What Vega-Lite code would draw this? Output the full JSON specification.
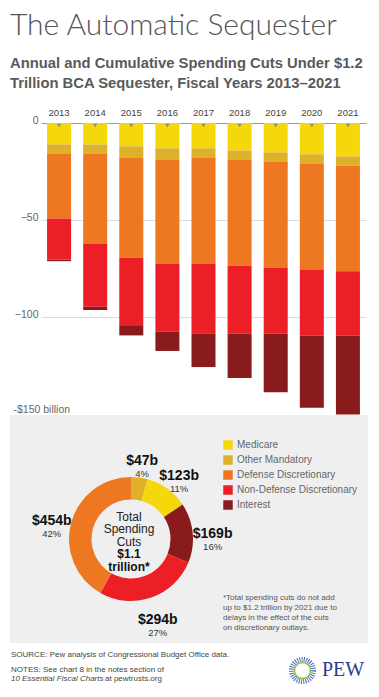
{
  "$schema": "https://vega.github.io/schema/vega-lite/v6.json",
  "padding": {"left": 10, "top": 11, "right": 0, "bottom": 0},
  "background": "white",
  "config": {
    "view": {"stroke": null},
    "font": "Liberation Sans",
    "axis": {"labelFont": "Liberation Sans"},
    "legend": {"labelFont": "Liberation Sans"}
  },
  "title": {
    "text": "The Automatic Sequester",
    "subtitle": ["Annual and Cumulative Spending Cuts Under $1.2", "Trillion BCA Sequester, Fiscal Years 2013–2021"],
    "anchor": "start",
    "frame": "bounds",
    "font": "Lato",
    "fontSize": 30,
    "fontWeight": 300,
    "color": "#555555",
    "subtitleFont": "Liberation Sans",
    "subtitleFontSize": 14.8,
    "subtitleFontWeight": "bold",
    "subtitleColor": "#5a5a5a",
    "subtitlePadding": 15,
    "subtitleLineHeight": 20,
    "offset": 16.5
  },
  "datasets": {
    "bars": [
      {"year": "2013", "Medicare": -11.0, "Other Mandatory": -5.0, "Defense Discretionary": -33.1, "Non-Defense Discretionary": -21.3, "Interest": -0.7},
      {"year": "2014", "Medicare": -11.0, "Other Mandatory": -5.0, "Defense Discretionary": -46.2, "Non-Defense Discretionary": -32.3, "Interest": -1.7},
      {"year": "2015", "Medicare": -12.0, "Other Mandatory": -6.0, "Defense Discretionary": -51.4, "Non-Defense Discretionary": -35.0, "Interest": -4.9},
      {"year": "2016", "Medicare": -13.0, "Other Mandatory": -6.1, "Defense Discretionary": -53.2, "Non-Defense Discretionary": -35.1, "Interest": -9.9},
      {"year": "2017", "Medicare": -13.0, "Other Mandatory": -5.0, "Defense Discretionary": -54.3, "Non-Defense Discretionary": -36.1, "Interest": -17.2},
      {"year": "2018", "Medicare": -14.1, "Other Mandatory": -5.0, "Defense Discretionary": -54.3, "Non-Defense Discretionary": -35.0, "Interest": -22.8},
      {"year": "2019", "Medicare": -15.1, "Other Mandatory": -5.0, "Defense Discretionary": -54.3, "Non-Defense Discretionary": -34.0, "Interest": -30.1},
      {"year": "2020", "Medicare": -16.1, "Other Mandatory": -4.8, "Defense Discretionary": -54.5, "Non-Defense Discretionary": -34.0, "Interest": -37.1},
      {"year": "2021", "Medicare": -17.2, "Other Mandatory": -4.8, "Defense Discretionary": -54.3, "Non-Defense Discretionary": -33.1, "Interest": -44.0}
    ],
    "cats": [
      {"cat": "Medicare", "bo": 1, "do": 2},
      {"cat": "Other Mandatory", "bo": 2, "do": 1},
      {"cat": "Defense Discretionary", "bo": 3, "do": 5},
      {"cat": "Non-Defense Discretionary", "bo": 4, "do": 4},
      {"cat": "Interest", "bo": 5, "do": 3}
    ],
    "totals": [
      {"cat": "Other Mandatory", "amt": 47, "lab": "$47b", "pct": "4%"},
      {"cat": "Medicare", "amt": 123, "lab": "$123b", "pct": "11%"},
      {"cat": "Interest", "amt": 169, "lab": "$169b", "pct": "16%"},
      {"cat": "Non-Defense Discretionary", "amt": 294, "lab": "$294b", "pct": "27%"},
      {"cat": "Defense Discretionary", "amt": 454, "lab": "$454b", "pct": "42%"}
    ]
  },
  "spacing": 0,
  "resolve": {"legend": {"color": "independent"}},
  "vconcat": [
    {
      "spacing": 0,
      "hconcat": [
        {
          "width": 3,
          "height": 1,
          "data": {"values": [{"t": ""}]},
          "mark": {"type": "text", "text": ""},
          "encoding": {}
        },
        {
          "width": 325,
          "height": 291.5,
          "data": {"name": "bars"},
          "transform": [
            {"fold": ["Medicare", "Other Mandatory", "Defense Discretionary", "Non-Defense Discretionary", "Interest"], "as": ["cat", "v"]},
            {"lookup": "cat", "from": {"data": {"name": "cats"}, "key": "cat", "fields": ["bo"]}}
          ],
          "layer": [
            {
              "mark": {"type": "bar"},
              "encoding": {
                "x": {
                  "field": "year", "type": "ordinal",
                  "scale": {"paddingInner": 0.335, "paddingOuter": 0.168},
                  "axis": {"orient": "top", "title": null, "ticks": false, "domain": true, "domainColor": "#9a9a9a", "domainWidth": 1, "labelPadding": 5.5, "labelFontSize": 9.5, "labelColor": "#444444", "labelAngle": 0, "grid": false}
                },
                "y": {
                  "field": "v", "type": "quantitative", "stack": "zero",
                  "scale": {"domain": [-150, 0], "nice": false, "clamp": true},
                  "axis": {
                    "values": [0, -50, -100, -150], "title": null, "ticks": false, "domain": false,
                    "labelFontSize": 10.5, "labelColor": "#666666",
                    "labelExpr": "datum.value === -150 ? '-$150 billion' : datum.label",
                    "labelAlign": {"condition": {"test": "datum.value === -150", "value": "left"}, "value": "right"},
                    "labelBaseline": {"condition": {"test": "datum.value === -150", "value": "bottom"}, "value": "middle"},
                    "labelPadding": {"condition": {"test": "datum.value === -150", "value": 28}, "value": 3},
                    "labelOffset": {"condition": {"test": "datum.value === -150", "value": 0}, "value": -2.5},
                    "gridColor": "#dddddd", "gridWidth": 1
                  }
                },
                "color": {
                  "field": "cat", "type": "nominal",
                  "scale": {
                    "domain": ["Medicare", "Other Mandatory", "Defense Discretionary", "Non-Defense Discretionary", "Interest"],
                    "range": ["#f5d80b", "#dfb12a", "#ee7722", "#ec1f26", "#8a1b1d"]
                  },
                  "legend": null
                },
                "order": {"field": "bo", "type": "quantitative"}
              }
            },
            {
              "transform": [{"filter": "datum.cat === 'Medicare'"}],
              "mark": {"type": "point", "shape": "triangle-down", "filled": true, "color": "#8a8a8a", "opacity": 1, "size": 18, "yOffset": 2.5},
              "encoding": {
                "x": {"field": "year", "type": "ordinal"},
                "y": {"datum": 0}
              }
            }
          ]
        }
      ]
    },
    {
      "width": 358,
      "height": 228,
      "view": {"fill": "#efefef", "stroke": null},
      "data": {"name": "totals"},
      "layer": [
        {
          "transform": [{"lookup": "cat", "from": {"data": {"name": "cats"}, "key": "cat", "fields": ["do"]}}],
          "mark": {"type": "arc", "innerRadius": 39.5, "outerRadius": 62, "xOffset": -58, "yOffset": 10},
          "encoding": {
            "theta": {"field": "amt", "type": "quantitative", "stack": true},
            "order": {"field": "do", "type": "quantitative"},
            "color": {
              "field": "cat", "type": "nominal",
              "scale": {
                "domain": ["Medicare", "Other Mandatory", "Defense Discretionary", "Non-Defense Discretionary", "Interest"],
                "range": ["#f5d80b", "#dfb12a", "#ee7722", "#ec1f26", "#8a1b1d"]
              },
              "legend": {
                "orient": "none", "legendX": 213, "legendY": 25, "title": null,
                "symbolType": "square", "symbolSize": 90, "symbolStrokeWidth": 0, "symbolOpacity": 1,
                "labelFontSize": 10, "labelColor": "#666666", "rowPadding": 5, "labelOffset": 4, "padding": 0
              }
            }
          }
        },
        {
          "transform": [{"lookup": "cat", "from": {"data": {"name": "cats"}, "key": "cat", "fields": ["do"]}}],
          "mark": {"type": "text", "radius": 82, "xOffset": -58, "yOffset": 19, "dy": -6, "fontSize": 14, "fontWeight": "bold", "color": "#111111", "baseline": "middle"},
          "encoding": {
            "theta": {"field": "amt", "type": "quantitative", "stack": true},
            "order": {"field": "do", "type": "quantitative"},
            "text": {"field": "lab"}
          }
        },
        {
          "transform": [{"lookup": "cat", "from": {"data": {"name": "cats"}, "key": "cat", "fields": ["do"]}}],
          "mark": {"type": "text", "radius": 82, "xOffset": -58, "yOffset": 19, "dy": 7, "fontSize": 9.5, "color": "#333333", "baseline": "middle"},
          "encoding": {
            "theta": {"field": "amt", "type": "quantitative", "stack": true},
            "order": {"field": "do", "type": "quantitative"},
            "text": {"field": "pct"}
          }
        },
        {
          "data": {"values": [{"t": "Total Spending Cuts"}]},
          "mark": {"type": "text", "text": ["Total", "Spending", "Cuts"], "xOffset": -60, "yOffset": 10, "dy": -22.5, "fontSize": 12, "lineHeight": 12.6, "color": "#222222", "baseline": "middle"},
          "encoding": {}
        },
        {
          "data": {"values": [{"t": "$1.1 trillion*"}]},
          "mark": {"type": "text", "text": ["$1.1", "trillion*"], "xOffset": -60, "yOffset": 10, "dy": 15.3, "fontSize": 12, "fontWeight": "bold", "lineHeight": 12.6, "color": "#111111", "baseline": "middle"},
          "encoding": {}
        },
        {
          "data": {"values": [{"t": "footnote"}]},
          "mark": {"type": "text", "text": ["*Total spending cuts do not add", "up to $1.2 trillion by 2021 due to", "delays in the effect of the cuts", "on discretionary outlays."], "align": "left", "baseline": "middle", "xOffset": 34, "yOffset": 69, "fontSize": 8, "lineHeight": 10.1, "color": "#555555"},
          "encoding": {}
        },
        {
          "data": {"values": [{"t": "source"}]},
          "mark": {"type": "text", "text": ["SOURCE: Pew analysis of Congressional Budget Office data."], "align": "left", "baseline": "middle", "xOffset": -178, "yOffset": 125.7, "fontSize": 8, "color": "#444444"},
          "encoding": {}
        },
        {
          "data": {"values": [{"t": "notes"}]},
          "mark": {"type": "text", "text": ["NOTES: See chart 8 in the notes section of"], "align": "left", "baseline": "middle", "xOffset": -178, "yOffset": 140.7, "fontSize": 8, "color": "#444444"},
          "encoding": {}
        },
        {
          "data": {"values": [{"t": "notes italic"}]},
          "mark": {"type": "text", "text": ["10 Essential Fiscal Charts"], "align": "left", "baseline": "middle", "xOffset": -178, "yOffset": 150.3, "fontSize": 8, "fontStyle": "italic", "color": "#444444"},
          "encoding": {}
        },
        {
          "data": {"values": [{"t": "notes end"}]},
          "mark": {"type": "text", "text": ["at pewtrusts.org"], "align": "left", "baseline": "middle", "xOffset": -84, "yOffset": 150.3, "fontSize": 8, "color": "#444444"},
          "encoding": {}
        },
        {
          "data": {"values": [{"t": "logo"}]},
          "mark": {"type": "point", "shape": "circle", "size": 484, "filled": false, "fill": "white", "stroke": "#5468c0", "strokeWidth": 5, "strokeDash": [1, 1.2], "opacity": 1, "xOffset": 113.5, "yOffset": 141.5},
          "encoding": {}
        },
        {
          "data": {"values": [{"t": "logo"}]},
          "mark": {"type": "point", "shape": "circle", "size": 256, "filled": false, "stroke": "#8cc63f", "strokeWidth": 1.5, "opacity": 1, "xOffset": 113.5, "yOffset": 141.5},
          "encoding": {}
        },
        {
          "data": {"values": [{"t": "PEW"}]},
          "mark": {"type": "text", "text": "PEW", "font": "Liberation Serif", "fontSize": 20, "color": "#2e3a8e", "align": "left", "baseline": "middle", "xOffset": 133, "yOffset": 141},
          "encoding": {}
        }
      ]
    }
  ]
}
